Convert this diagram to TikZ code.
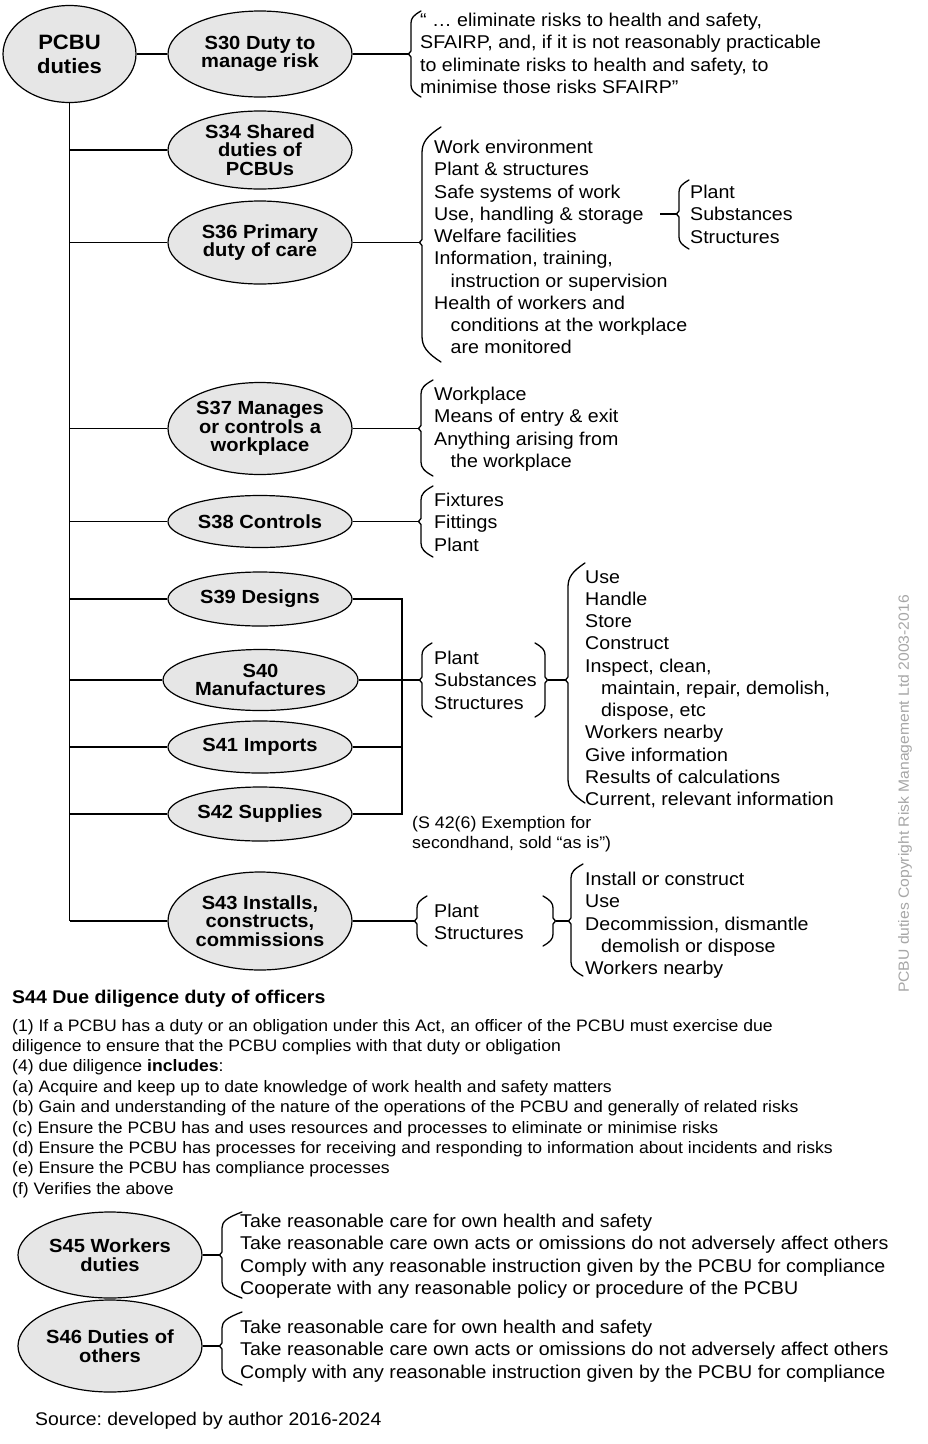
\documentclass[tikz,border=0pt]{standalone}
\usepackage{fontspec}
\setmainfont{Liberation Sans}[FakeStretch=1.06]
\usetikzlibrary{shapes.geometric}
\definecolor{ovalgray}{HTML}{E6E6E6}
\definecolor{copygray}{HTML}{A6A6A6}
\frenchspacing
% left brace: x, top, mid, bot, reach, curve height
\newcommand\lbr[6]{%
  \draw[bracestyle] ({#1+#5},#2) .. controls ({#1+0.25*#5},{#2+0.35*#6}) and (#1,{#2+0.6*#6}) .. (#1,{#2+#6})
    -- (#1,{#3-3}) -- ({#1-2.5},#3) -- (#1,{#3+3}) -- (#1,{#4-#6})
    .. controls (#1,{#4-0.6*#6}) and ({#1+0.25*#5},{#4-0.35*#6}) .. ({#1+#5},#4);}
\newcommand\rbr[6]{%
  \draw[bracestyle] ({#1-#5},#2) .. controls ({#1-0.25*#5},{#2+0.35*#6}) and (#1,{#2+0.6*#6}) .. (#1,{#2+#6})
    -- (#1,{#3-3}) -- ({#1+2.5},#3) -- (#1,{#3+3}) -- (#1,{#4-#6})
    .. controls (#1,{#4-0.6*#6}) and ({#1-0.25*#5},{#4-0.35*#6}) .. ({#1-#5},#4);}
\begin{document}
\begin{tikzpicture}[x=1pt,y=-1pt,
  oval/.style={ellipse, draw, fill=ovalgray, line width=1.2pt, inner sep=0pt,
    minimum width=184pt, align=center, font=\bfseries\fontsize{19}{18.4}\selectfont},
  txt/.style={anchor=north west, inner sep=0pt, align=left, font=\fontsize{18.5}{22.25}\selectfont},
  smalltxt/.style={anchor=north west, inner sep=0pt, align=left, font=\fontsize{16.6}{20.4}\selectfont},
  link/.style={line width=1.4pt},
  bracestyle/.style={line width=1.3pt, line join=round, line cap=round}]
\useasboundingbox (0,0) rectangle (927,1444);

% ellipses
\node[oval, minimum width=133pt, minimum height=97pt, font=\bfseries\fontsize{20.8}{24}\selectfont] (pcbu) at (69.5,54) {PCBU\\duties};
\node[oval, minimum height=86pt] (s30) at (260,54) {S30 Duty to\\manage risk};
\node[oval, minimum height=78pt] (s34) at (260,150) {S34 Shared\\duties of\\PCBUs};
\node[oval, minimum height=83pt] (s36) at (260,242.5) {S36 Primary\\duty of care};
\node[oval, minimum height=92pt] (s37) at (260,428.5) {S37 Manages\\or controls a\\workplace};
\node[oval, minimum height=52pt] (s38) at (260,521.5) {S38 Controls};
\node[oval, minimum height=54pt] (s39) at (260,599) {S39 Designs};
\node[oval, minimum width=195pt, minimum height=61pt] (s40) at (260.5,680) {S40\\Manufactures};
\node[oval, minimum height=52pt] (s41) at (260,747) {S41 Imports};
\node[oval, minimum height=54pt] (s42) at (260,814) {S42 Supplies};
\node[oval, minimum height=98pt] (s43) at (260,921) {S43 Installs,\\constructs,\\commissions};
\node[oval, minimum height=86pt] (s45) at (110,1255) {S45 Workers\\duties};
\node[oval, minimum height=92pt] (s46) at (110,1346) {S46 Duties of\\others};

% trunk and branches
\draw[link] (pcbu.east) -- (s30.west);
\draw[link] (pcbu.south) -- (pcbu.south |- s43.west);
\foreach \n in {s34,s36,s37,s38,s39,s40,s41,s42,s43}
  \draw[link] (pcbu.south |- \n.west) -- (\n.west);

% S30
\coordinate (b30) at (408.5,54);
\draw[link] (s30.east) -- (b30);
\lbr{411}{11}{54}{97}{10}{12}
\node[txt] (t30) at (420,13.1) {“ … eliminate risks to health and safety,\\SFAIRP, and, if it is not reasonably practicable\\to eliminate risks to health and safety, to\\minimise those risks SFAIRP”};

% S36
\coordinate (b36) at (419.5,242.5);
\draw[link] (s36.east) -- (b36);
\lbr{422}{127}{242.5}{362}{19}{26}
\node[txt] (t36) at (434,140.1) {Work environment\\Plant \& structures\\Safe systems of work\\Use, handling \& storage\\Welfare facilities\\Information, training,\\\hspace*{16.5pt}instruction or supervision\\Health of workers and\\\hspace*{16.5pt}conditions at the workplace\\\hspace*{16.5pt}are monitored};
\coordinate (u36) at (660,214);
\coordinate (b36s) at (676.5,214);
\draw[link] (u36) -- (b36s);
\lbr{679}{180}{214}{249}{10}{12}
\node[txt] (t36s) at (690,185.1) {Plant\\Substances\\Structures};

% S37
\coordinate (b37) at (418.5,428.5);
\draw[link] (s37.east) -- (b37);
\lbr{421}{380}{428.5}{476}{12}{14}
\node[txt] (t37) at (434,387.1) {Workplace\\Means of entry \& exit\\Anything arising from\\\hspace*{16.5pt}the workplace};

% S38
\coordinate (b38) at (418.5,521.5);
\draw[link] (s38.east) -- (b38);
\lbr{421}{486}{521.5}{557}{12}{14}
\node[txt] (t38) at (434,493.1) {Fixtures\\Fittings\\Plant};

% S39-S42
\coordinate (bus) at (402,680);
\draw[link] (s39.east) -- (s39.east -| bus) -- (s42.east -| bus) -- (s42.east);
\draw[link] (s40.east) -- (bus);
\draw[link] (s41.east) -- (s41.east -| bus);
\coordinate (bpss) at (419.5,680);
\draw[link] (bus) -- (bpss);
\lbr{422}{643}{680}{717}{10}{12}
\node[txt] (tpss) at (434,651.1) {Plant\\Substances\\Structures};
\rbr{545}{643}{680}{717}{10}{12}
\coordinate (rpss) at (547.5,680);
\coordinate (blist) at (565.5,680);
\draw[link] (rpss) -- (blist);
\lbr{568}{563}{680}{803}{17}{24}
\node[txt] (tlist) at (585,570.1) {Use\\Handle\\Store\\Construct\\Inspect, clean,\\\hspace*{16pt}maintain, repair, demolish,\\\hspace*{16pt}dispose, etc\\Workers nearby\\Give information\\Results of calculations\\Current, relevant information};
\node[smalltxt, font=\fontsize{16.8}{20}\selectfont] (exempt) at (412,815.8) {(S 42(6) Exemption for\\secondhand, sold “as is”)};

% S43
\coordinate (b43) at (414.5,921);
\draw[link] (s43.east) -- (b43);
\lbr{417}{896}{921}{946}{10}{12}
\node[txt] (t43) at (434,904.1) {Plant\\Structures};
\rbr{553}{896}{921}{946}{10}{12}
\coordinate (r43) at (555.5,921);
\coordinate (b43l) at (568.5,921);
\draw[link] (r43) -- (b43l);
\lbr{571}{864}{921}{976}{12}{14}
\node[txt] (t43l) at (585,872.1) {Install or construct\\Use\\Decommission, dismantle\\\hspace*{16pt}demolish or dispose\\Workers nearby};

% S44
\node[anchor=west, inner sep=0pt, font=\bfseries\fontsize{18.4}{20}\selectfont] (h44) at (12,999) {S44 Due diligence duty of officers};
\node[smalltxt] (t44) at (12,1018.8) {(1) If a PCBU has a duty or an obligation under this Act, an officer of the PCBU must exercise due\\diligence to ensure that the PCBU complies with that duty or obligation\\(4) due diligence \textbf{includes}:\\(a) Acquire and keep up to date knowledge of work health and safety matters\\(b) Gain and understanding of the nature of the operations of the PCBU and generally of related risks\\(c) Ensure the PCBU has and uses resources and processes to eliminate or minimise risks\\(d) Ensure the PCBU has processes for receiving and responding to information about incidents and risks\\(e) Ensure the PCBU has compliance processes\\(f) Verifies the above};

% S45
\coordinate (b45) at (219.5,1255);
\draw[link] (s45.east) -- (b45);
\lbr{222}{1212}{1255}{1298}{20}{16}
\node[txt] (t45) at (240,1214.1) {Take reasonable care for own health and safety\\Take reasonable care own acts or omissions do not adversely affect others\\Comply with any reasonable instruction given by the PCBU for compliance\\Cooperate with any reasonable policy or procedure of the PCBU};

% S46
\coordinate (b46) at (219.5,1346);
\draw[link] (s46.east) -- (b46);
\lbr{222}{1312}{1346}{1385}{20}{16}
\node[txt] (t46) at (240,1320.1) {Take reasonable care for own health and safety\\Take reasonable care own acts or omissions do not adversely affect others\\Comply with any reasonable instruction given by the PCBU for compliance};

% source and copyright
\node[anchor=west, inner sep=0pt, font=\fontsize{18.3}{20}\selectfont] (src) at (35,1421) {Source: developed by author 2016-2024};
\node[rotate=90, inner sep=0pt, text=copygray, font=\fontsize{14.8}{17}\selectfont] (copy) at (905,794) {PCBU duties Copyright Risk Management Ltd 2003-2016};
\end{tikzpicture}
\end{document}
